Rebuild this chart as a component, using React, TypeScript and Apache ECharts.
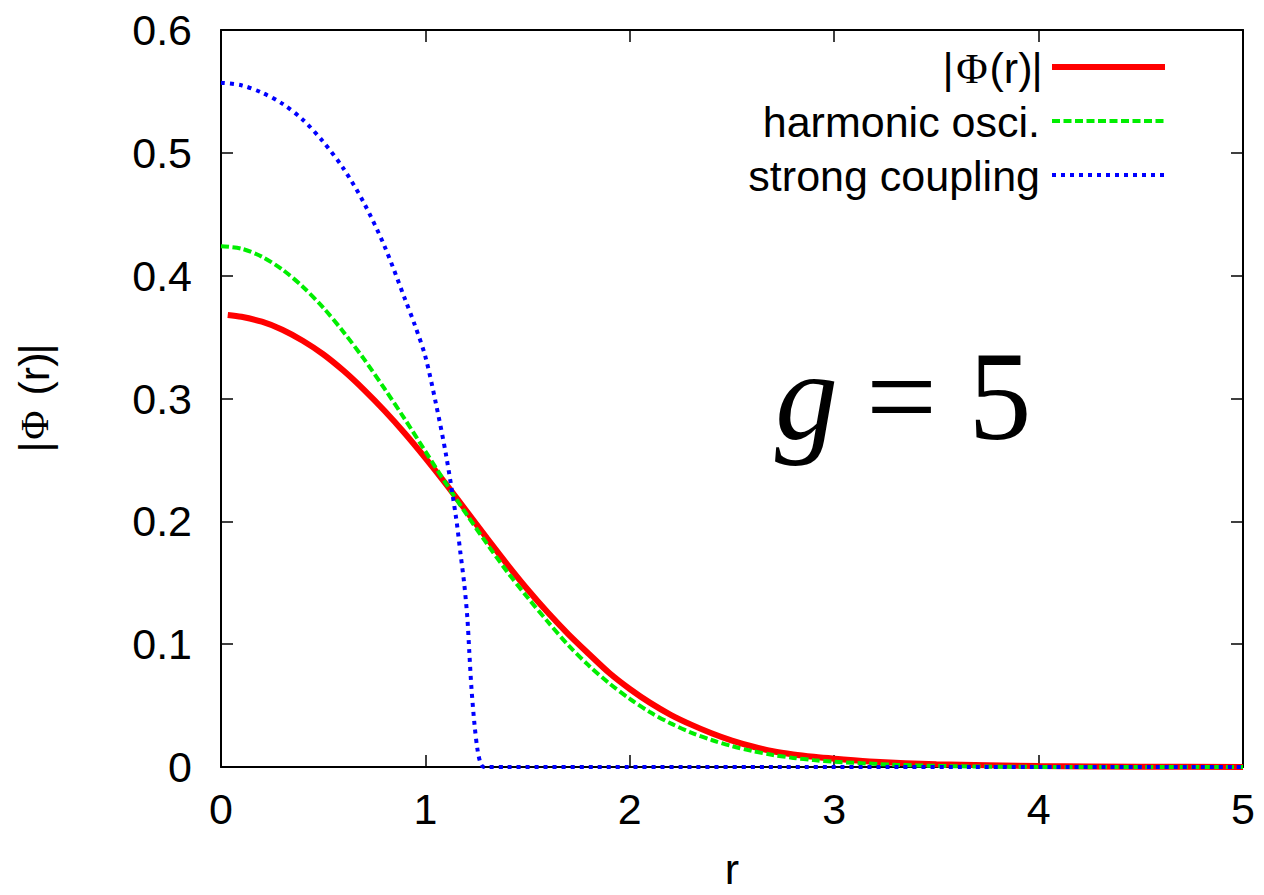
import React, { useEffect, useRef } from "react";
import * as echarts from "echarts";

// |Φ(r)| for g = 5 (numerical solution)
const rPhi = [0.033, 0.1, 0.2, 0.3, 0.4, 0.5, 0.6, 0.7, 0.8, 0.9, 1.0, 1.1, 1.2, 1.3, 1.4, 1.5, 1.6, 1.7, 1.8, 1.9, 2.0, 2.1, 2.2, 2.3, 2.4, 2.5, 2.6, 2.7, 2.8, 2.9, 3.0, 3.2, 3.5, 4.0, 4.5, 5.0];
const phiValues = [0.368, 0.3665, 0.3625, 0.356, 0.347, 0.336, 0.3225, 0.307, 0.29, 0.2715, 0.2515, 0.2305, 0.2085, 0.1865, 0.165, 0.1445, 0.1255, 0.108, 0.092, 0.0765, 0.0635, 0.0522, 0.0425, 0.0345, 0.0275, 0.0215, 0.0167, 0.0128, 0.0102, 0.0083, 0.0068, 0.0042, 0.0022, 0.0008, 0.0003, 0.0001];

// harmonic oscillator ground state
const rHarm = [0, 0.1, 0.2, 0.3, 0.4, 0.5, 0.6, 0.7, 0.8, 0.9, 1.0, 1.1, 1.2, 1.3, 1.4, 1.5, 1.6, 1.7, 1.8, 1.9, 2.0, 2.1, 2.2, 2.3, 2.4, 2.5, 2.6, 2.7, 2.8, 2.9, 3.0, 3.3, 3.6, 4.0, 5.0];
const harmValues = [0.424, 0.422, 0.4155, 0.405, 0.391, 0.374, 0.354, 0.332, 0.308, 0.283, 0.257, 0.231, 0.206, 0.182, 0.159, 0.138, 0.118, 0.099, 0.0825, 0.068, 0.0555, 0.0445, 0.0355, 0.028, 0.022, 0.017, 0.013, 0.0098, 0.0074, 0.0056, 0.0043, 0.0018, 0.0006, 0.0001, 0];

// strong-coupling (Thomas-Fermi) profile
const rStrong = [0, 0.1, 0.2, 0.3, 0.4, 0.5, 0.6, 0.7, 0.8, 0.9, 0.95, 1.0, 1.05, 1.1, 1.15, 1.17, 1.19, 1.205, 1.215, 1.225, 1.24, 1.255, 1.27, 1.285, 1.4, 2, 3, 4, 5];
const strongValues = [0.557, 0.555, 0.549, 0.54, 0.527, 0.509, 0.487, 0.459, 0.424, 0.381, 0.359, 0.334, 0.297, 0.255, 0.203, 0.176, 0.149, 0.122, 0.093, 0.065, 0.035, 0.014, 0.003, 0, 0, 0, 0, 0, 0];

const xTicks = { min: 0, max: 5, interval: 1 };
const yTicks = { min: 0, max: 0.6, interval: 0.1 };

const seriesNames = ["|Φ(r)|", "harmonic osci.", "strong coupling"];

const SANS = "'Liberation Sans', Arial, Helvetica, sans-serif";
const SERIF = "'Liberation Serif', 'Times New Roman', serif";
const FS = 43;

const pairs = (xs: number[], ys: number[]) => xs.map((x, i) => [x, ys[i]]);

export default function App() {
  const ref = useRef<HTMLDivElement>(null);

  useEffect(() => {
    if (!ref.current) return;
    const chart = echarts.init(ref.current, null, { renderer: "svg" });

    const axisLine = { show: true, onZero: false, lineStyle: { color: "#000", width: 2 } };
    const axisTick = { show: true, inside: true, length: 12, lineStyle: { color: "#000", width: 1.5 } };

    const legendRows = [
      { y: 67, color: "#ff0000", dash: null as number[] | null, width: 6 },
      { y: 121, color: "#00ee00", dash: [8, 3.5], width: 4 },
      { y: 175, color: "#0000ff", dash: [4, 5], width: 4 },
    ];

    const txt = (
      text: string,
      x: number,
      y: number,
      family: string,
      size: number,
      align: string,
      extra: any = {}
    ) => ({
      type: "text",
      style: {
        text,
        x,
        y,
        align,
        verticalAlign: "middle",
        fontFamily: family,
        fontSize: size,
        fill: "#000",
        ...extra,
      },
    });

    const graphic: any[] = [];
    legendRows.forEach((row, i) => {
      if (i === 0) {
        // "|Φ(r)|" with a serif Φ
        graphic.push(txt("|", 1037, row.y + 1, SANS, FS, "center"));
        graphic.push(txt("(r)", 1011, row.y + 1, SANS, FS, "center"));
        graphic.push(txt("Φ", 972, row.y + 1, SERIF, FS, "center"));
        graphic.push(txt("|", 948, row.y + 1, SANS, FS, "center"));
      } else {
        graphic.push(txt(seriesNames[i], 1040, row.y + 1, SANS, FS, "right"));
      }
      graphic.push({
        type: "line",
        shape: { x1: 1052, y1: row.y, x2: 1165, y2: row.y },
        style: { stroke: row.color, lineWidth: row.width, lineDash: row.dash || undefined },
      });
    });

    // annotation "g = 5"
    graphic.push(txt("g", 775, 396, SERIF, 126, "left", { fontStyle: "italic" }));
    graphic.push(txt("= 5", 866, 396, SERIF, 126, "left"));

    // y-axis title "|Φ (r)|", read bottom to top
    graphic.push({
      type: "group",
      x: 34,
      y: 398,
      rotation: Math.PI / 2,
      children: [
        txt("|", 49, 0, SANS, FS, "center"),
        txt("(r)", 24, 0, SANS, FS, "center"),
        txt("Φ", -27, 0, SERIF, 40, "center"),
        txt("|", -49, 0, SANS, FS, "center"),
      ],
    });

    chart.setOption({
      animation: false,
      backgroundColor: "#fff",
      grid: { left: 221, right: 21, top: 30, bottom: 128, outerBoundsMode: "none", containLabel: false },
      xAxis: [
        {
          type: "value",
          position: "bottom",
          ...xTicks,
          axisLine,
          axisTick,
          splitLine: { show: false },
          axisLabel: { color: "#000", fontFamily: SANS, fontSize: FS, margin: 20 },
          name: "r",
          nameLocation: "middle",
          nameGap: 80,
          nameTextStyle: { color: "#000", fontFamily: SANS, fontSize: FS, lineHeight: 44 },
        },
        {
          type: "value",
          position: "top",
          ...xTicks,
          axisLine,
          axisTick,
          splitLine: { show: false },
          axisLabel: { show: false },
        },
      ],
      yAxis: [
        {
          type: "value",
          position: "left",
          ...yTicks,
          axisLine,
          axisTick,
          splitLine: { show: false },
          axisLabel: { color: "#000", fontFamily: SANS, fontSize: FS, margin: 29 },
        },
        {
          type: "value",
          position: "right",
          ...yTicks,
          axisLine,
          axisTick,
          splitLine: { show: false },
          axisLabel: { show: false },
        },
      ],
      series: [
        {
          name: seriesNames[0],
          type: "line",
          data: pairs(rPhi, phiValues),
          showSymbol: false,
          smooth: 0.3,
          clip: false,
          lineStyle: { color: "#ff0000", width: 6 },
        },
        {
          name: seriesNames[1],
          type: "line",
          data: pairs(rHarm, harmValues),
          showSymbol: false,
          smooth: 0.3,
          clip: false,
          lineStyle: { color: "#00ee00", width: 4, type: [8, 3.5] },
        },
        {
          name: seriesNames[2],
          type: "line",
          data: pairs(rStrong, strongValues),
          showSymbol: false,
          smooth: 0.3,
          clip: false,
          lineStyle: { color: "#0000ff", width: 4, type: [4, 5] },
        },
      ],
      graphic,
    });

    return () => chart.dispose();
  }, []);

  return (
    <div
      ref={ref}
      style={{ position: "fixed", left: 0, top: 0, width: 1264, height: 895, background: "#fff" }}
    />
  );
}
